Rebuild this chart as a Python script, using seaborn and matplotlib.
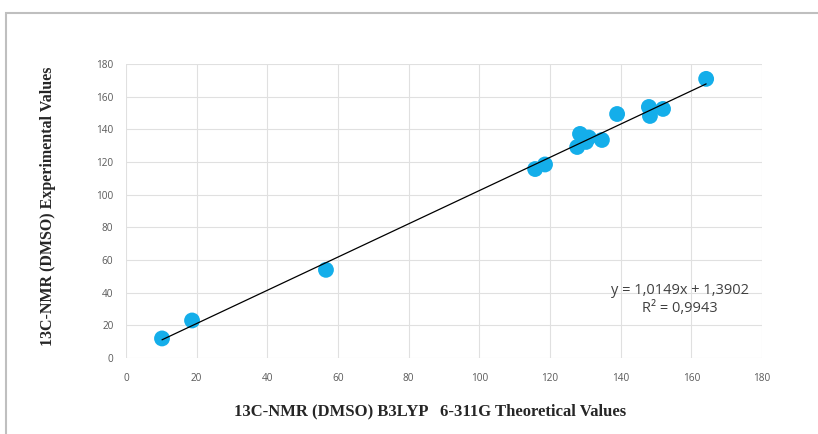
import numpy as np
import pandas as pd
import seaborn as sns
import matplotlib.pyplot as plt
from matplotlib.patches import Rectangle

# 13C-NMR shifts (ppm)
theoretical = [10.2, 18.7, 56.6, 115.8, 118.6, 127.7, 128.5, 130.2, 131.0, 134.7,
               139.0, 148.0, 148.3, 152.0, 164.2]
experimental = [12.0, 23.0, 54.0, 115.7, 118.5, 129.2, 137.2, 132.3, 135.0, 133.5,
                149.4, 153.7, 148.2, 152.5, 170.9]
eq_text = "y = 1,0149x + 1,3902\nR\u00b2 = 0,9943"
ticks = [0, 20, 40, 60, 80, 100, 120, 140, 160, 180]

data = pd.DataFrame({"theo": theoretical, "exp": experimental})

sns.set_style("whitegrid")
plt.rcParams['font.family'] = ['Open Sans', 'DejaVu Sans']

fig = plt.figure(figsize=(8.18, 4.34), dpi=100)
ax = fig.add_axes([0.154, 0.175, 0.7775, 0.6775])

sns.regplot(x="theo", y="exp", data=data, ax=ax, ci=None, truncate=True,
            scatter_kws=dict(s=130, color="#14AEEA", alpha=1, edgecolor="none", zorder=3),
            line_kws=dict(color="black", lw=0.9, zorder=4))

ax.set_xlim(0, 180)
ax.set_ylim(0, 180)
ax.set_xticks(ticks)
ax.set_yticks(ticks)
ax.grid(True, color="#E0E0E0", lw=0.8)
for s in ax.spines.values():
    s.set_visible(False)
ax.tick_params(axis="both", length=0, labelsize=7.2, labelcolor="#595959")
ax.tick_params(axis="x", pad=11)
ax.tick_params(axis="y", pad=9)
ax.set_xlabel("")
ax.set_ylabel("")

ax.text(156.8, 36, eq_text, ha="center", va="center", multialignment="center",
        fontsize=10.5, color="#404040", linespacing=1.3)

fig.text(430 / 818, 1 - 411 / 434, "13C-NMR (DMSO) B3LYP   6-311G Theoretical Values",
         ha="center", va="center", fontsize=12, fontweight="bold",
         family="Liberation Serif")
fig.text(48 / 818, 1 - 206 / 434, "13C-NMR (DMSO) Experimental Values",
         ha="center", va="center", rotation=90, fontsize=11.5, fontweight="bold",
         family="Liberation Serif")

# chart area frame
fig.add_artist(Rectangle((6 / 818, -0.1), 1.2, 1 - 13 / 434 + 0.1, transform=fig.transFigure,
                         fill=False, edgecolor="#BFBFBF", lw=1.5))

fig.savefig("out.png", dpi=100)
